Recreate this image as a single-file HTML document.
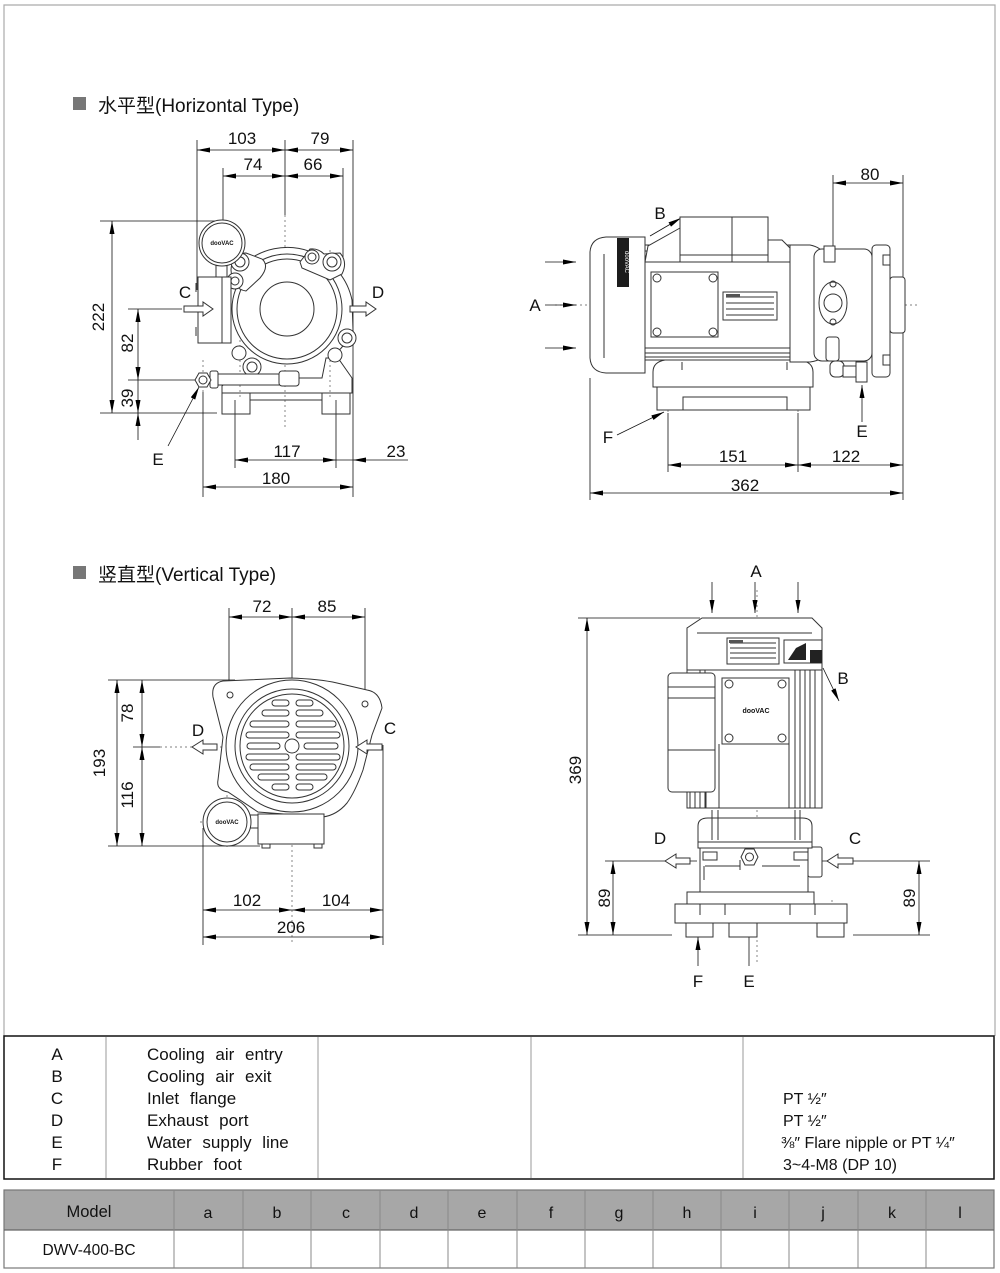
<!DOCTYPE html>
<html><head><meta charset="utf-8">
<style>
html,body{margin:0;padding:0;background:#fff;}
svg{display:block;}
text{font-family:"Liberation Sans","Noto Sans CJK SC",sans-serif;fill:#111;}
.m{stroke:#333;stroke-width:1;fill:none;}
.mf{stroke:#333;stroke-width:1;fill:#fff;}
.d{stroke:#111;stroke-width:0.8;fill:none;}
.cl{stroke:#555;stroke-width:0.7;fill:none;stroke-dasharray:2 3;}
.dim{font-size:17px;text-anchor:middle;}
.lb{font-size:17px;text-anchor:middle;}
.tt{font-size:16px;}
</style></head><body>
<svg width="1000" height="1273" viewBox="0 0 1000 1273" xmlns="http://www.w3.org/2000/svg">
<defs>
<marker id="ar" viewBox="0 0 13 5" refX="13" refY="2.5" markerWidth="13" markerHeight="5" markerUnits="userSpaceOnUse" orient="auto-start-reverse"><path d="M0,0L13,2.5L0,5z" fill="#000"/></marker>
</defs>

<!-- outer frame -->
<path d="M4,1036 V5 H995 V1036" stroke="#aaa" stroke-width="1.2" fill="none"/>

<!-- Titles -->
<rect x="73" y="97" width="13" height="13" fill="#777"/>
<text x="98" y="112" font-size="19">水平型(Horizontal  Type)</text>
<rect x="73" y="566" width="13" height="13" fill="#777"/>
<text x="98" y="581" font-size="19">竖直型(Vertical  Type)</text>

<!-- ================= HORIZONTAL FRONT VIEW ================= -->
<g>
 <path class="d" d="M197,140 V290 M223,168 V222 M343,168 V262 M353,140 V497 M285,140 V215 M100,221 H223 M100,413 H217 M128,309 H182 M128,380 H195 M203,392 V497 M235,400 V468 M336,400 V468"/>
 <path class="cl" d="M285,215 V430 M228,309 H350 M203,360 V392 M240,250 V400 M330,250 V400"/>
 <line class="d" x1="197" y1="150" x2="285" y2="150" marker-start="url(#ar)" marker-end="url(#ar)"/>
 <line class="d" x1="285" y1="150" x2="353" y2="150" marker-start="url(#ar)" marker-end="url(#ar)"/>
 <line class="d" x1="223" y1="176" x2="285" y2="176" marker-start="url(#ar)" marker-end="url(#ar)"/>
 <line class="d" x1="285" y1="176" x2="343" y2="176" marker-start="url(#ar)" marker-end="url(#ar)"/>
 <line class="d" x1="112" y1="221" x2="112" y2="413" marker-start="url(#ar)" marker-end="url(#ar)"/>
 <line class="d" x1="138" y1="309" x2="138" y2="380" marker-start="url(#ar)" marker-end="url(#ar)"/>
 <line class="d" x1="138" y1="380" x2="138" y2="413" marker-end="url(#ar)"/>
 <line class="d" x1="138" y1="440" x2="138" y2="413" marker-end="url(#ar)"/>
 <line class="d" x1="235" y1="460" x2="336" y2="460" marker-start="url(#ar)" marker-end="url(#ar)"/>
 <line class="d" x1="408" y1="460" x2="353" y2="460" marker-end="url(#ar)"/>
 <line class="d" x1="336" y1="460" x2="353" y2="460"/>
 <line class="d" x1="203" y1="487" x2="353" y2="487" marker-start="url(#ar)" marker-end="url(#ar)"/>
 <text class="dim" x="242" y="144">103</text>
 <text class="dim" x="320" y="144">79</text>
 <text class="dim" x="253" y="170">74</text>
 <text class="dim" x="313" y="170">66</text>
 <text class="dim" x="287" y="457">117</text>
 <text class="dim" x="396" y="457">23</text>
 <text class="dim" x="276" y="484">180</text>
 <text class="dim" transform="translate(104,317) rotate(-90)">222</text>
 <text class="dim" transform="translate(133,343) rotate(-90)">82</text>
 <text class="dim" transform="translate(133,398) rotate(-90)">39</text>
 <text class="lb" x="185" y="298">C</text>
 <text class="lb" x="378" y="298">D</text>
 <text class="lb" x="158" y="465">E</text>
 <line class="d" x1="168" y1="446" x2="199" y2="387" marker-end="url(#ar)"/>

 <!-- base -->
 <path class="m" d="M222,393 H352 V378 L338,358 H326 L322,378 H232 L222,386 Z"/>
 <rect class="m" x="222" y="393" width="28" height="21"/>
 <rect class="m" x="322" y="393" width="28" height="21"/>
 <path class="m" d="M250,393 V400 H322 V393"/>
 <!-- volute -->
 <path d="M246,262 A66,66 0 0,1 352,300 L353,330 A66,66 0 0,1 335,354 L287,309 Z" fill="#fff" stroke="none"/>
 <path class="m" d="M246,262 A66,66 0 0,1 352,300 L353,330 A66,66 0 0,1 335,354"/>
 <circle class="mf" cx="287" cy="309" r="55"/>
 <circle class="m" cx="287" cy="309" r="50"/>
 <circle class="m" cx="287" cy="309" r="27"/>
 <!-- lobes -->
 <path class="mf" d="M231,270 Q232,253 246,253 L262,259 Q270,266 260,278 L246,291 Q232,289 231,270 Z"/>
 <path class="mf" d="M300,262 L310,249 Q318,248 324,254 L340,253 Q348,262 342,274 L330,280 L302,268 Z"/>
 <circle class="mf" cx="240" cy="262" r="9"/><circle class="m" cx="240" cy="262" r="5"/>
 <circle class="mf" cx="312" cy="257" r="7"/><circle class="m" cx="312" cy="257" r="4"/>
 <circle class="mf" cx="332" cy="262" r="9"/><circle class="m" cx="332" cy="262" r="5"/>
 <circle class="mf" cx="235" cy="281" r="8"/><circle class="m" cx="235" cy="281" r="4"/>
 <circle class="mf" cx="347" cy="338" r="9"/><circle class="m" cx="347" cy="338" r="5"/>
 <circle class="mf" cx="239" cy="353" r="7"/>
 <circle class="mf" cx="335" cy="355" r="7"/>
 <circle class="mf" cx="252" cy="367" r="9"/><circle class="m" cx="252" cy="367" r="5"/>
 <!-- gauge -->
 <rect class="mf" x="216" y="262" width="11" height="16"/>
 <circle class="mf" cx="222" cy="243" r="23"/>
 <circle class="m" cx="222" cy="243" r="20"/>
 <text x="222" y="245" font-size="6" text-anchor="middle" font-weight="bold">dooVAC</text>
 <!-- C flange -->
 <rect class="mf" x="198" y="277" width="24" height="66"/>
 <rect class="mf" x="222" y="277" width="9" height="66"/>
 <path class="m" d="M196,283 v9 M196,327 v9"/>
 <path class="mf" d="M184,306 H203 V302 L213,309 L203,316 V312 H184 Z"/>
 <path class="mf" d="M350,306 H366 V302 L376,309 L366,316 V312 H350 Z"/>
 <!-- water pipe -->
 <rect class="mf" x="210" y="374" width="86" height="11"/>
 <rect class="mf" x="210" y="371" width="8" height="17" rx="2"/>
 <rect class="mf" x="279" y="371" width="20" height="15" rx="3"/>
 <path class="mf" d="M195,380 L199,373 H207 L211,380 L207,387 H199 Z"/>
 <circle class="m" cx="203" cy="380" r="4"/>
</g>

<!-- ================= HORIZONTAL SIDE VIEW ================= -->
<g>
 <path class="d" d="M833,175 V262 M903,175 V500 M590,378 V500 M668,413 V472 M798,413 V472"/>
 <path class="cl" d="M555,305 H918 M668,380 V412 M798,380 V412"/>
 <line class="d" x1="833" y1="183" x2="903" y2="183" marker-start="url(#ar)" marker-end="url(#ar)"/>
 <line class="d" x1="668" y1="465" x2="798" y2="465" marker-start="url(#ar)" marker-end="url(#ar)"/>
 <line class="d" x1="798" y1="465" x2="903" y2="465" marker-start="url(#ar)" marker-end="url(#ar)"/>
 <line class="d" x1="590" y1="493" x2="903" y2="493" marker-start="url(#ar)" marker-end="url(#ar)"/>
 <text class="dim" x="870" y="180">80</text>
 <text class="dim" x="733" y="462">151</text>
 <text class="dim" x="846" y="462">122</text>
 <text class="dim" x="745" y="491">362</text>
 <line class="d" x1="545" y1="262" x2="576" y2="262" marker-end="url(#ar)"/>
 <line class="d" x1="545" y1="305" x2="576" y2="305" marker-end="url(#ar)"/>
 <line class="d" x1="545" y1="348" x2="576" y2="348" marker-end="url(#ar)"/>
 <text class="lb" x="535" y="311">A</text>
 <text class="lb" x="660" y="219">B</text>
 <line class="d" x1="650" y1="236" x2="681" y2="218" marker-end="url(#ar)"/>
 <text class="lb" x="608" y="443">F</text>
 <line class="d" x1="617" y1="435" x2="664" y2="412" marker-end="url(#ar)"/>
 <text class="lb" x="862" y="437">E</text>
 <line class="d" x1="862" y1="422" x2="862" y2="385" marker-end="url(#ar)"/>

 <path class="mf" d="M653,387 V372 Q653,362 665,360 H800 Q813,362 813,372 V387 Z"/>
 <rect class="mf" x="657" y="387" width="153" height="23"/>
 <path class="m" d="M683,410 V397 H787 V410 M682,362 v8 M787,362 v8"/>
 <rect class="mf" x="645" y="245" width="145" height="115"/>
 <path class="m" d="M645,251 H680 M645,256 H680 M768,251 H790 M768,256 H790 M645,348 H790 M645,353 H790 M645,357 H790"/>
 <rect class="m" x="651" y="272" width="67" height="65"/>
 <circle class="m" cx="657" cy="278" r="4"/><circle class="m" cx="713" cy="278" r="4"/>
 <circle class="m" cx="657" cy="332" r="4"/><circle class="m" cx="713" cy="332" r="4"/>
 <rect class="m" x="723" y="292" width="54" height="28"/>
 <path class="m" d="M726,297 H774 M726,303 H774 M726,309 H774 M726,315 H774" stroke-width="0.5"/>
 <rect x="726" y="294" width="14" height="3" fill="#555"/>
 <path class="mf" d="M645,262 L648,246 L680,228 V217 H768 V240 H782 L790,248 V262 Z"/>
 <path class="m" d="M680,228 V262 M768,240 V262 M732,217 V262 M680,255 H768"/>
 <path class="mf" d="M645,237 H606 Q591,238 590,252 V358 Q591,372 606,373 H645 Z"/>
 <path class="m" d="M604,254 V358"/>
 <rect x="617" y="238" width="12" height="49" fill="#1c1c1c"/>
 <text transform="translate(625,262) rotate(90)" font-size="6" text-anchor="middle" style="fill:#fff">dooVAC</text>
 <path class="mf" d="M790,245 H810 Q825,248 828,262 V350 Q825,360 810,362 H790 Z"/>
 <rect class="mf" x="814" y="249" width="58" height="112" rx="8"/>
 <rect class="mf" x="824" y="246" width="11" height="16"/>
 <ellipse class="mf" cx="833" cy="303" rx="14" ry="21"/>
 <circle class="m" cx="833" cy="303" r="9"/>
 <circle class="m" cx="833" cy="284" r="3"/><circle class="m" cx="833" cy="322" r="3"/>
 <rect class="mf" x="872" y="245" width="18" height="132" rx="4"/>
 <rect class="mf" x="890" y="277" width="15" height="56" rx="3"/>
 <rect class="m" x="883" y="255" width="7" height="10"/>
 <rect class="m" x="883" y="355" width="7" height="10"/>
 <rect class="mf" x="826" y="337" width="13" height="24" rx="3"/>
 <rect class="mf" x="830" y="361" width="14" height="16" rx="5"/>
 <rect class="mf" x="843" y="366" width="24" height="11"/>
 <rect class="mf" x="856" y="362" width="11" height="20"/>
</g>

<!-- ================= VERTICAL FRONT VIEW ================= -->
<g>
 <path class="d" d="M229,608 V695 M365,608 V705 M292,608 V680 M108,680 H235 M108,846 H260 M133,747 H160 M203,828 V945 M383,745 V945"/>
 <path class="cl" d="M292,680 V945 M160,747 H383 M227,795 V850 M200,822 H258"/>
 <line class="d" x1="229" y1="617" x2="292" y2="617" marker-start="url(#ar)" marker-end="url(#ar)"/>
 <line class="d" x1="292" y1="617" x2="365" y2="617" marker-start="url(#ar)" marker-end="url(#ar)"/>
 <line class="d" x1="117" y1="680" x2="117" y2="846" marker-start="url(#ar)" marker-end="url(#ar)"/>
 <line class="d" x1="142" y1="680" x2="142" y2="747" marker-start="url(#ar)" marker-end="url(#ar)"/>
 <line class="d" x1="142" y1="747" x2="142" y2="846" marker-start="url(#ar)" marker-end="url(#ar)"/>
 <line class="d" x1="203" y1="910" x2="292" y2="910" marker-start="url(#ar)" marker-end="url(#ar)"/>
 <line class="d" x1="292" y1="910" x2="383" y2="910" marker-start="url(#ar)" marker-end="url(#ar)"/>
 <line class="d" x1="203" y1="937" x2="383" y2="937" marker-start="url(#ar)" marker-end="url(#ar)"/>
 <text class="dim" x="262" y="612">72</text>
 <text class="dim" x="327" y="612">85</text>
 <text class="dim" x="247" y="906">102</text>
 <text class="dim" x="336" y="906">104</text>
 <text class="dim" x="291" y="933">206</text>
 <text class="dim" transform="translate(105,763) rotate(-90)">193</text>
 <text class="dim" transform="translate(133,713) rotate(-90)">78</text>
 <text class="dim" transform="translate(133,795) rotate(-90)">116</text>
 <text class="lb" x="198" y="736">D</text>
 <text class="lb" x="390" y="734">C</text>
 <path class="mf" d="M213,697 Q211,683 223,681 L290,678 Q320,679 337,683 L367,690 Q380,692 382,708 L372,735 L363,770 Q355,792 347,803 Q337,815 323,817 L258,812 L228,792 Q216,790 218,780 L223,737 Z"/>
 <circle class="m" cx="292" cy="746" r="66"/>
 <circle class="mf" cx="292" cy="746" r="57"/>
 <circle class="m" cx="292" cy="746" r="52"/>
 <circle class="m" cx="292" cy="746" r="7"/>
 <circle class="m" cx="230" cy="695" r="3"/>
 <circle class="m" cx="365" cy="704" r="3"/>
 <g class="m">
  <rect x="272" y="700" width="17" height="6" rx="3"/><rect x="296" y="700" width="17" height="6" rx="3"/>
  <rect x="262" y="710" width="27" height="6" rx="3"/><rect x="296" y="710" width="27" height="6" rx="3"/>
  <rect x="250" y="721" width="39" height="6" rx="3"/><rect x="296" y="721" width="40" height="6" rx="3"/>
  <rect x="246" y="732" width="43" height="6" rx="3"/><rect x="296" y="732" width="44" height="6" rx="3"/>
  <rect x="247" y="743" width="33" height="6" rx="3"/><rect x="304" y="743" width="34" height="6" rx="3"/>
  <rect x="246" y="754" width="43" height="6" rx="3"/><rect x="296" y="754" width="44" height="6" rx="3"/>
  <rect x="250" y="764" width="39" height="6" rx="3"/><rect x="296" y="764" width="40" height="6" rx="3"/>
  <rect x="258" y="774" width="31" height="6" rx="3"/><rect x="296" y="774" width="31" height="6" rx="3"/>
  <rect x="272" y="784" width="17" height="6" rx="3"/><rect x="296" y="784" width="17" height="6" rx="3"/>
 </g>
 <path class="mf" d="M217,744 H203 V740 L192,747 L203,754 V750 H217 Z"/>
 <path class="mf" d="M382,744 H367 V740 L356,747 L367,754 V750 H382 Z"/>
 <rect class="mf" x="258" y="814" width="66" height="30"/>
 <path class="m" d="M262,844 v4 h8 v-4 M314,844 v4 h8 v-4"/>
 <rect class="mf" x="248" y="815" width="10" height="13"/>
 <circle class="mf" cx="227" cy="822" r="24"/>
 <circle class="m" cx="227" cy="822" r="20"/>
 <text x="227" y="824" font-size="6" text-anchor="middle" font-weight="bold">dooVAC</text>
</g>

<!-- ================= VERTICAL SIDE VIEW ================= -->
<g>
 <path class="d" d="M578,618 H700 M578,935 H672 M605,861 H697 M822,861 H930 M853,935 H930"/>
 <path class="cl" d="M757,590 V965 M700,900 V940 M832,900 V940"/>
 <line class="d" x1="587" y1="618" x2="587" y2="935" marker-start="url(#ar)" marker-end="url(#ar)"/>
 <line class="d" x1="613" y1="861" x2="613" y2="935" marker-start="url(#ar)" marker-end="url(#ar)"/>
 <line class="d" x1="919" y1="861" x2="919" y2="935" marker-start="url(#ar)" marker-end="url(#ar)"/>
 <text class="dim" transform="translate(581,770) rotate(-90)">369</text>
 <text class="dim" transform="translate(610,898) rotate(-90)">89</text>
 <text class="dim" transform="translate(915,898) rotate(-90)">89</text>
 <text class="lb" x="756" y="577">A</text>
 <line class="d" x1="712" y1="582" x2="712" y2="613" marker-end="url(#ar)"/>
 <line class="d" x1="755" y1="582" x2="755" y2="613" marker-end="url(#ar)"/>
 <line class="d" x1="798" y1="582" x2="798" y2="613" marker-end="url(#ar)"/>
 <text class="lb" x="843" y="684">B</text>
 <line class="d" x1="823" y1="668" x2="839" y2="701" marker-end="url(#ar)"/>
 <text class="lb" x="660" y="844">D</text>
 <text class="lb" x="855" y="844">C</text>
 <path class="mf" d="M690,858 H676 V854 L665,861 L676,868 V864 H690 Z"/>
 <path class="mf" d="M853,858 H838 V854 L827,861 L838,868 V864 H853 Z"/>
 <line class="d" x1="749" y1="966" x2="749" y2="867" marker-end="url(#ar)"/>
 <line class="d" x1="698" y1="966" x2="698" y2="937" marker-end="url(#ar)"/>
 <text class="lb" x="749" y="987">E</text>
 <text class="lb" x="698" y="987">F</text>

 <rect class="mf" x="686" y="923" width="27" height="14"/>
 <rect class="mf" x="729" y="923" width="28" height="14"/>
 <rect class="mf" x="817" y="923" width="27" height="14"/>
 <rect class="mf" x="675" y="904" width="172" height="19"/>
 <rect class="mf" x="687" y="892" width="127" height="12"/>
 <path class="m" d="M700,904 V915 M725,904 V915 M790,904 V915 M815,904 V915"/>
 <rect class="mf" x="700" y="847" width="108" height="45"/>
 <rect class="mf" x="808" y="847" width="14" height="30" rx="2"/>
 <path class="m" d="M705,866 H740 M762,866 H800 M704,866 V880 M740,860 V870"/>
 <rect class="m" x="703" y="852" width="14" height="8"/>
 <rect class="m" x="794" y="852" width="14" height="8"/>
 <path class="mf" d="M698,842 V826 Q698,818 708,818 H802 Q812,818 812,826 V842 Z"/>
 <rect class="mf" x="698" y="842" width="114" height="6"/>
 <path class="m" d="M712,810 V840 M718,810 V840 M795,810 V840 M800,810 V840"/>
 <path class="mf" d="M741,857 L745,849 H754 L758,857 L754,865 H745 Z"/>
 <circle class="m" cx="749.5" cy="857" r="4"/>
 <rect class="mf" x="687" y="670" width="135" height="138"/>
 <path class="m" d="M700,670 V808 M705,670 V808 M795,670 V808 M800,670 V808 M805,670 V808 M810,670 V808 M815,670 V808 M719,744 V808 M789,744 V808" stroke-width="0.6"/>
 <rect class="mf" x="722" y="678" width="67" height="66"/>
 <circle class="m" cx="729" cy="684" r="4"/><circle class="m" cx="782" cy="684" r="4"/>
 <circle class="m" cx="729" cy="738" r="4"/><circle class="m" cx="782" cy="738" r="4"/>
 <text x="756" y="713" font-size="7" text-anchor="middle" font-weight="bold">dooVAC</text>
 <rect class="mf" x="668" y="673" width="47" height="119" rx="4"/>
 <path class="m" d="M668,687 H715 M668,698 H715 M668,750 H715"/>
 <path class="m" d="M690,792 V808 M695,792 V808 M700,792 V808 M706,792 V808" stroke-width="0.6"/>
 <path class="mf" d="M687,670 V628 L702,618 H812 L822,628 V670 Z"/>
 <path class="m" d="M697,633 H812"/>
 <rect class="m" x="727" y="638" width="52" height="26"/>
 <path class="m" d="M730,643 H776 M730,648 H776 M730,653 H776 M730,658 H776" stroke-width="0.5"/>
 <rect x="729" y="640" width="14" height="3" fill="#555"/>
 <rect class="m" x="784" y="640" width="38" height="23"/>
 <path d="M788,660 L796,648 L806,643 L806,660 Z" fill="#222"/>
 <rect x="810" y="650" width="12" height="13" fill="#222"/>
</g>

<!-- ================= TABLE 1 ================= -->
<rect x="4" y="1036" width="990" height="143" fill="#fff" stroke="#111" stroke-width="1.5"/>
<path d="M106,1037 V1178 M318,1037 V1178 M531,1037 V1178 M743,1037 V1178" stroke="#999" stroke-width="1"/>
<g font-size="17" style="word-spacing:6px">
 <text x="57" y="1060" text-anchor="middle">A</text>
 <text x="57" y="1082" text-anchor="middle">B</text>
 <text x="57" y="1104" text-anchor="middle">C</text>
 <text x="57" y="1126" text-anchor="middle">D</text>
 <text x="57" y="1148" text-anchor="middle">E</text>
 <text x="57" y="1170" text-anchor="middle">F</text>
 <text x="147" y="1060">Cooling air entry</text>
 <text x="147" y="1082">Cooling air exit</text>
 <text x="147" y="1104">Inlet flange</text>
 <text x="147" y="1126">Exhaust port</text>
 <text x="147" y="1148">Water supply line</text>
 <text x="147" y="1170">Rubber foot</text>
</g>
<g font-size="16">
 <text x="783" y="1104">PT  ½″</text>
 <text x="783" y="1126">PT  ½″</text>
 <text x="781" y="1148">⅜″ Flare nipple or PT ¼″</text>
 <text x="783" y="1170">3~4-M8 (DP 10)</text>
</g>

<!-- ================= TABLE 2 ================= -->
<rect x="4" y="1190" width="990" height="40" fill="#a7a7a7"/>
<rect x="4" y="1190" width="990" height="78" fill="none" stroke="#777" stroke-width="1.2"/>
<line x1="4" y1="1230" x2="994" y2="1230" stroke="#666" stroke-width="1.2"/>
<path d="M174,1190 V1268 M243,1190 V1268 M311,1190 V1268 M380,1190 V1268 M448,1190 V1268 M517,1190 V1268 M585,1190 V1268 M653,1190 V1268 M721,1190 V1268 M789,1190 V1268 M858,1190 V1268 M926,1190 V1268" stroke="#888" stroke-width="1"/>
<g class="tt" text-anchor="middle">
 <text x="89" y="1217" font-size="16.5">Model</text>
 <text x="208" y="1218">a</text>
 <text x="277" y="1218">b</text>
 <text x="346" y="1218">c</text>
 <text x="414" y="1218">d</text>
 <text x="482" y="1218">e</text>
 <text x="551" y="1218">f</text>
 <text x="619" y="1218">g</text>
 <text x="687" y="1218">h</text>
 <text x="755" y="1218">i</text>
 <text x="823" y="1218">j</text>
 <text x="892" y="1218">k</text>
 <text x="960" y="1218">l</text>
 <text x="89" y="1255" font-size="15.5">DWV-400-BC</text>
</g>
</svg>
</body></html>
